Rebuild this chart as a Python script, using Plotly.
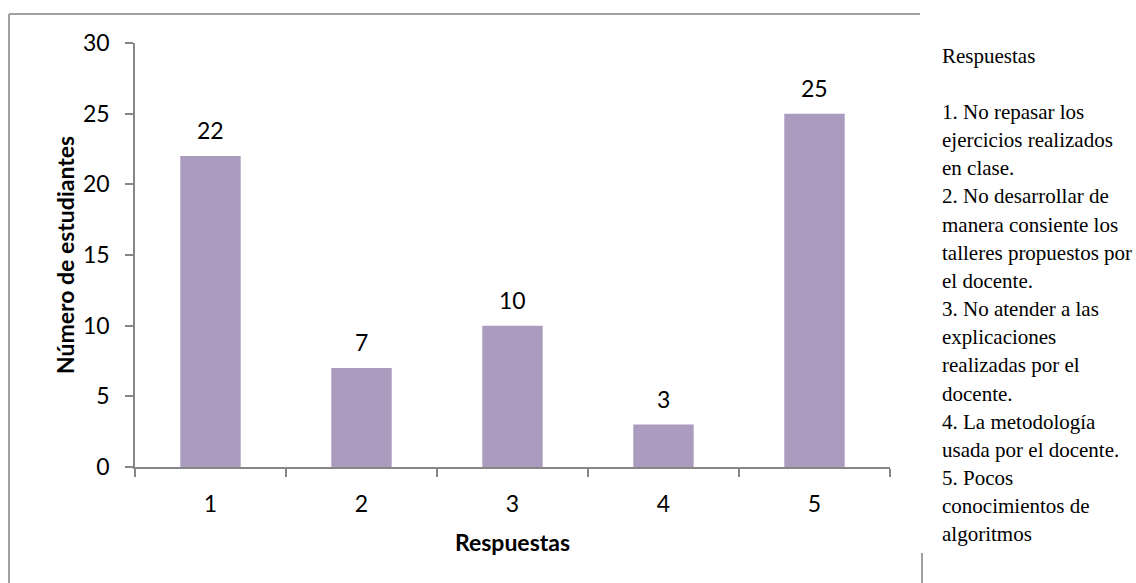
import plotly.graph_objects as go

# Survey results: number of students per response option
categories = ["1", "2", "3", "4", "5"]
students = [22, 7, 10, 3, 25]
y_ticks = [0, 5, 10, 15, 20, 25, 30]

legend_title = "Respuestas"
legend_lines = [
    "1. No repasar los",
    "ejercicios realizados",
    "en clase.",
    "2. No desarrollar de",
    "manera consiente los",
    "talleres propuestos por",
    "el docente.",
    "3. No atender a las",
    "explicaciones",
    "realizadas por el",
    "docente.",
    "4. La metodología",
    "usada por el docente.",
    "5. Pocos",
    "conocimientos de",
    "algoritmos",
]

W, H = 1136, 583
L, R, T, B = 135, 890, 43, 467  # plot area in pixels

def px(x):
    return (x - L) / (R - L)

def py(y):
    return (B - y) / (B - T)

BAR = "#AA9BBF"
AXIS = "#868686"
FONT = "Lato"

fig = go.Figure()
fig.add_trace(go.Bar(
    x=categories, y=students,
    marker=dict(color=BAR, line=dict(width=0)),
    width=0.4, hoverinfo="x+y",
))

annotations = []
# value labels above each bar (category index positions)
for i, v in enumerate(students):
    annotations.append(dict(
        x=i, y=v, xref="x", yref="y", text=str(v), showarrow=False,
        yanchor="bottom", yshift=10,
        font=dict(family=FONT, size=23, color="black"),
    ))

# response key on the right
annotations.append(dict(
    x=px(940), y=py(56), xref="paper", yref="paper", text=legend_title,
    showarrow=False, xanchor="left", yanchor="middle",
    font=dict(family="Liberation Serif", size=21, color="black"),
))
for i, line in enumerate(legend_lines):
    annotations.append(dict(
        x=px(940), y=py(112 + 28.15 * i), xref="paper", yref="paper",
        text=line, showarrow=False, xanchor="left", yanchor="middle",
        font=dict(family="Liberation Serif", size=21, color="black"),
    ))

shapes = [
    dict(type="line", xref="paper", yref="paper", x0=px(9), y0=py(14), x1=px(920), y1=py(14),
         line=dict(color="#A0A0A0", width=2)),
    dict(type="line", xref="paper", yref="paper", x0=px(9), y0=py(14), x1=px(9), y1=py(590),
         line=dict(color="#A0A0A0", width=2)),
    dict(type="line", xref="paper", yref="paper", x0=px(922), y0=py(553), x1=px(922), y1=py(590),
         line=dict(color="#A0A0A0", width=2)),
]

fig.update_layout(
    width=W, height=H,
    margin=dict(l=L, r=W - R, t=T, b=H - B, pad=0),
    paper_bgcolor="white", plot_bgcolor="white",
    showlegend=False,
    bargap=0.6,
    annotations=annotations,
    shapes=shapes,
    xaxis=dict(
        type="category", tickson="boundaries",
        range=[-0.5, len(categories) - 0.5],
        showline=True, linecolor=AXIS, linewidth=1.5,
        ticks="outside", ticklen=8, tickcolor=AXIS, tickwidth=1.5,
        showgrid=False, zeroline=False,
        tickfont=dict(family=FONT, size=23, color="black"),
        ticklabelstandoff=16,
        title=dict(text="<b>Respuestas</b>", standoff=19,
                   font=dict(family=FONT, size=23, color="black")),
        automargin=False,
    ),
    yaxis=dict(
        range=[0, 30], tickvals=y_ticks,
        showline=True, linecolor=AXIS, linewidth=1.5,
        ticks="outside", ticklen=8, tickcolor=AXIS, tickwidth=1.5,
        showgrid=False, zeroline=False,
        tickfont=dict(family=FONT, size=23, color="black"),
        ticklabelstandoff=11,
        title=dict(text="<b>Número de estudiantes</b>", standoff=2,
                   font=dict(family=FONT, size=23, color="black")),
        automargin=False,
    ),
)

fig.write_html("out.html")
